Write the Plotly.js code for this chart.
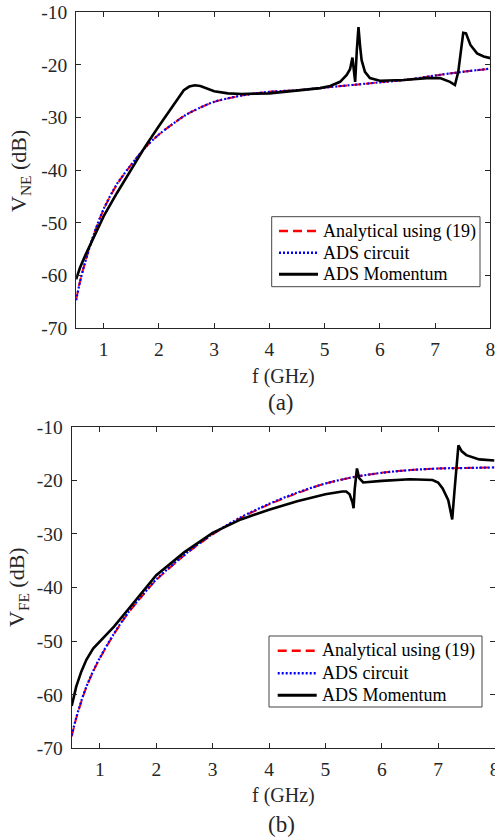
<!DOCTYPE html>
<html>
<head>
<meta charset="utf-8">
<script src="https://cdn.plot.ly/plotly-3.0.1.min.js"></script>
<style>
html,body{margin:0;padding:0;background:#fff;}
#chart{width:495px;height:838px;}
</style>
</head>
<body>
<div id="chart"></div>
<script>
// ---------- Data ----------
// Legend names
var seriesNames = ["Analytical using (19)", "ADS circuit", "ADS Momentum"];

// Axis ticks
var xTickVals = [1, 2, 3, 4, 5, 6, 7, 8];
var yTickVals = [-70, -60, -50, -40, -30, -20, -10];
var yTickText = ["-70", "-60", "-50", "-40", "-30", "-20", "-10"];

// (a) V_NE : analytical and ADS circuit
var fA_model = [0.5, 0.57, 0.66, 0.81, 1.0, 1.24, 1.5, 1.75, 2.0, 2.25, 2.5, 2.75, 3.0, 3.5, 4.0, 4.5, 5.0, 5.5, 6.0, 6.5, 7.0, 7.5, 8.0];
var vNE_analytical = [-64.6, -61.1, -57.6, -52.5, -47.4, -42.7, -38.9, -35.7, -33.2, -31.2, -29.4, -28.1, -27.0, -25.8, -25.1, -24.8, -24.3, -23.8, -23.3, -22.8, -22.0, -21.3, -20.7];
var vNE_circuit    = [-64.7, -61.2, -57.6, -52.5, -47.3, -42.6, -38.9, -35.7, -33.2, -31.2, -29.4, -28.1, -27.0, -25.8, -25.1, -24.8, -24.3, -23.8, -23.3, -22.8, -22.0, -21.3, -20.7];

// (a) V_NE : ADS Momentum
var fA_mom = [0.5, 0.57, 0.66, 0.81, 1.0, 1.24, 1.5, 1.75, 2.0, 2.25, 2.35, 2.45, 2.55, 2.65, 2.75, 2.85, 3.0, 3.25, 3.5, 4.0, 4.5, 4.92, 5.1, 5.28, 5.4, 5.46, 5.504, 5.54, 5.553, 5.583, 5.613, 5.643, 5.67, 5.73, 5.82, 6.0, 6.43, 6.85, 7.09, 7.27, 7.36, 7.42, 7.47, 7.51, 7.56, 7.64, 7.76, 7.88, 8.0];
var vNE_momentum = [-60.7, -58.5, -56.3, -52.8, -48.7, -44.3, -39.8, -35.5, -31.6, -27.8, -26.2, -24.8, -24.1, -23.85, -24.0, -24.4, -25.0, -25.4, -25.5, -25.4, -24.8, -24.4, -24.0, -23.2, -21.9, -20.8, -18.6, -23.2, -23.2, -17.2, -12.8, -16.5, -19.1, -21.3, -22.5, -23.0, -22.85, -22.5, -22.5, -23.2, -23.8, -21.3, -17.2, -13.9, -14.0, -16.2, -17.8, -18.4, -18.7];

// (b) V_FE : analytical and ADS circuit
var fB_model = [0.5, 0.58, 0.67, 0.76, 0.88, 1.0, 1.25, 1.5, 1.75, 2.0, 2.5, 3.0, 3.5, 4.0, 4.5, 5.0, 5.5, 6.0, 6.5, 7.0, 7.5, 8.0];
var vFE_analytical = [-67.8, -64.4, -61.3, -58.6, -55.7, -53.2, -48.7, -44.8, -41.6, -38.6, -34.0, -30.1, -27.0, -24.5, -22.4, -20.6, -19.4, -18.6, -18.1, -17.8, -17.7, -17.6];
var vFE_circuit    = [-67.6, -64.3, -61.2, -58.5, -55.6, -53.1, -48.6, -44.7, -41.5, -38.5, -33.9, -30.0, -26.9, -24.4, -22.3, -20.6, -19.4, -18.6, -18.1, -17.8, -17.7, -17.6];

// (b) V_FE : ADS Momentum
var fB_mom = [0.5, 0.58, 0.67, 0.76, 0.88, 1.0, 1.25, 1.5, 1.75, 2.0, 2.5, 3.0, 3.5, 4.0, 4.5, 5.0, 5.3, 5.37, 5.43, 5.48, 5.5, 5.52, 5.56, 5.6, 5.67, 5.85, 6.0, 6.5, 6.9, 7.0, 7.08, 7.18, 7.25, 7.29, 7.33, 7.36, 7.42, 7.5, 7.73, 8.0];
var vFE_momentum = [-62.1, -58.5, -55.7, -53.5, -51.4, -50.1, -47.3, -44.1, -40.8, -37.7, -33.4, -29.8, -27.3, -25.5, -23.9, -22.6, -22.1, -22.1, -22.6, -24.1, -25.2, -21.7, -17.8, -19.6, -20.4, -20.3, -20.1, -19.8, -19.95, -20.4, -21.5, -23.7, -27.3, -22.0, -16.0, -13.5, -14.6, -15.3, -16.1, -16.3];

// ---------- Styling ----------
var FONT = "Liberation Serif, Times New Roman, serif";
var INK = "#262626";
var W = 495, H = 838;
var LINE_STYLES = [
  {color: "#ff0000", width: 2, dash: "9px,5px"},
  {color: "#0000ff", width: 2.2, dash: "2px,2px"},
  {color: "#000000", width: 2.6, dash: "solid"}
];

function px(x){ return x / W; }
function py(y){ return 1 - y / H; }

function traces(f1, a, f1b, c, f2, m, xa, ya){
  return [
    {x: f1, y: a, xaxis: xa, yaxis: ya, name: seriesNames[0], mode: "lines",
     line: {color: LINE_STYLES[0].color, width: LINE_STYLES[0].width, dash: LINE_STYLES[0].dash, shape: "spline", smoothing: 0.8}},
    {x: f1b, y: c, xaxis: xa, yaxis: ya, name: seriesNames[1], mode: "lines",
     line: {color: LINE_STYLES[1].color, width: LINE_STYLES[1].width, dash: LINE_STYLES[1].dash, shape: "spline", smoothing: 0.8}},
    {x: f2, y: m, xaxis: xa, yaxis: ya, name: seriesNames[2], mode: "lines",
     line: {color: LINE_STYLES[2].color, width: LINE_STYLES[2].width}}
  ];
}

var data = [].concat(
  traces(fA_model, vNE_analytical, fA_model, vNE_circuit, fA_mom, vNE_momentum, "x", "y"),
  traces(fB_model, vFE_analytical, fB_model, vFE_circuit, fB_mom, vFE_momentum, "x2", "y2")
);

function xAxis(domain, anchor){
  return {
    domain: domain, anchor: anchor, range: [0.5, 8], tickvals: xTickVals,
    ticks: "inside", ticklen: 5, tickwidth: 1, tickcolor: INK,
    showline: true, linecolor: INK, linewidth: 1, mirror: "ticks",
    showgrid: false, zeroline: false, automargin: false, ticklabeloverflow: "allow",
    tickfont: {family: FONT, size: 19.5, color: INK}, ticklabelstandoff: 3
  };
}
function yAxis(domain, anchor){
  return {
    domain: domain, anchor: anchor, range: [-70, -10], tickvals: yTickVals, ticktext: yTickText,
    ticks: "inside", ticklen: 5, tickwidth: 1, tickcolor: INK,
    showline: true, linecolor: INK, linewidth: 1, mirror: "ticks",
    showgrid: false, zeroline: false, automargin: false, ticklabeloverflow: "allow",
    tickfont: {family: FONT, size: 19.5, color: INK}, ticklabelstandoff: 4
  };
}
function ann(text, x, y, size, angle){
  return {text: text, x: px(x), y: py(y), xref: "paper", yref: "paper",
    xanchor: "center", yanchor: "middle", showarrow: false, textangle: angle || 0,
    font: {family: FONT, size: size, color: INK}};
}

// Legend boxes drawn in paper space
var shapes = [], annotations = [];
function addLegend(box, rows, lineX0, lineX1, textX){
  shapes.push({type: "rect", xref: "paper", yref: "paper",
    x0: px(box[0]), x1: px(box[2]), y0: py(box[3]), y1: py(box[1]),
    line: {color: "#444", width: 1}, fillcolor: "#ffffff", layer: "above"});
  for (var i = 0; i < 3; i++){
    shapes.push({type: "line", xref: "paper", yref: "paper",
      x0: px(lineX0), x1: px(lineX1), y0: py(rows[i]), y1: py(rows[i]),
      line: {color: LINE_STYLES[i].color, width: LINE_STYLES[i].width + 0.4, dash: LINE_STYLES[i].dash}, layer: "above"});
    annotations.push({text: seriesNames[i], x: px(textX), y: py(rows[i]), xref: "paper", yref: "paper",
      xanchor: "left", yanchor: "middle", showarrow: false,
      font: {family: FONT, size: 18, color: "#000"}});
  }
}
addLegend([271.7, 216.7, 480, 286.7], [231, 252.7, 274.3], 279, 318, 321);
addLegend([269, 636, 482, 707], [650.7, 673.3, 695.3], 277.7, 316.7, 320);

annotations.push(
  ann("V<sub>NE</sub> (dB)", 20, 171, 22, -90),
  ann("f (GHz)", 283, 376, 20),
  ann("(a)", 281, 402, 23),
  ann("V<sub>FE</sub> (dB)", 18, 587, 22, -90),
  ann("f (GHz)", 283, 795, 20),
  ann("(b)", 281, 824, 23)
);

var layout = {
  width: W, height: H,
  margin: {l: 0, r: 0, t: 0, b: 0},
  paper_bgcolor: "#ffffff", plot_bgcolor: "#ffffff",
  showlegend: false,
  xaxis: xAxis([px(76.1), px(490.3)], "y"),
  yaxis: yAxis([py(328.3), py(12.3)], "x"),
  xaxis2: xAxis([px(71.7), px(494.5)], "y2"),
  yaxis2: yAxis([py(748.3), py(426.7)], "x2"),
  shapes: shapes,
  annotations: annotations
};

Plotly.newPlot("chart", data, layout, {staticPlot: true, displayModeBar: false});
</script>
</body>
</html>
